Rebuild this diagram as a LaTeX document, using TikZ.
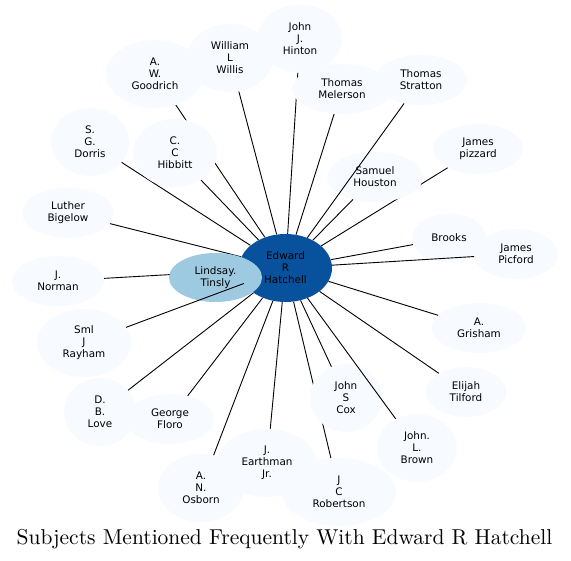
\documentclass[tikz,border=0pt]{standalone}
\usepackage{fontspec}
\usepackage{graphicx}
\usepackage{tikz}
\usetikzlibrary{shapes.geometric}
\newfontfamily\subjfont{DejaVu Sans}
\definecolor{hatchblue}{HTML}{08519C}
\definecolor{tinslyblue}{HTML}{9ECAE1}
\definecolor{paleblue}{HTML}{F7FBFF}
\pgfdeclarelayer{background}
\pgfsetlayers{background,main}

\begin{document}
\begin{tikzpicture}[x=1pt,y=-1pt,
    subj/.style={ellipse,fill=paleblue,inner sep=0pt,align=center,
      font=\subjfont\fontsize{10.4}{12}\selectfont},
    link/.style={line width=0.9pt,black}]
  \useasboundingbox (0,0) rectangle (571,561);
  % centre and the node laid over it
  \node[subj,fill=hatchblue,minimum width=93,minimum height=68] (edward) at (285.5,268) {Edward\\R\\Hatchell};
  \node[subj,fill=tinslyblue,minimum width=93,minimum height=49] (lindsay) at (215.5,277.5) {Lindsay.\\Tinsly};
  % ring of subjects
  \node[subj,minimum width=84,minimum height=68] (hinton) at (300,38.5) {John\\J.\\Hinton};
  \node[subj,minimum width=86,minimum height=68] (willis) at (230,58) {William\\L\\Willis};
  \node[subj,minimum width=98,minimum height=68] (goodrich) at (155,74) {A.\\W.\\Goodrich};
  \node[subj,minimum width=78,minimum height=68] (dorris) at (90,142) {S.\\G.\\Dorris};
  \node[subj,minimum width=84,minimum height=68] (hibbitt) at (175,153) {C.\\C\\Hibbitt};
  \node[subj,minimum width=92,minimum height=50] (bigelow) at (68,213) {Luther\\Bigelow};
  \node[subj,minimum width=92,minimum height=50] (norman) at (58,281) {J.\\Norman};
  \node[subj,minimum width=94,minimum height=68] (rayham) at (84,343) {Sml\\J\\Rayham};
  \node[subj,minimum width=72,minimum height=68] (love) at (100,412) {D.\\B.\\Love};
  \node[subj,minimum width=88,minimum height=50] (floro) at (170,419) {George\\Floro};
  \node[subj,minimum width=86,minimum height=68] (osborn) at (201,488) {A.\\N.\\Osborn};
  \node[subj,minimum width=100,minimum height=68] (earthman) at (267,463) {J.\\Earthman\\Jr.};
  \node[subj,minimum width=114,minimum height=68] (robertson) at (339,492) {J\\C\\Robertson};
  \node[subj,minimum width=72,minimum height=68] (cox) at (346,398) {John\\S\\Cox};
  \node[subj,minimum width=80,minimum height=68] (brown) at (417,448) {John.\\L.\\Brown};
  \node[subj,minimum width=80,minimum height=50] (tilford) at (466,392) {Elijah\\Tilford};
  \node[subj,minimum width=94,minimum height=50] (grisham) at (479,328) {A.\\Grisham};
  \node[subj,minimum width=74,minimum height=49] (brooks) at (449,238) {Brooks};
  \node[subj,minimum width=84,minimum height=50] (picford) at (516,254) {James\\Picford};
  \node[subj,minimum width=90,minimum height=50] (pizzard) at (478,149) {James\\pizzard};
  \node[subj,minimum width=96,minimum height=50] (houston) at (375,177) {Samuel\\Houston};
  \node[subj,minimum width=92,minimum height=50] (stratton) at (421,80) {Thomas\\Stratton};
  \node[subj,minimum width=100,minimum height=50] (melerson) at (342,89) {Thomas\\Melerson};
  % links behind the nodes
  \begin{pgfonlayer}{background}
    \foreach \other in {hinton,willis,goodrich,dorris,hibbitt,bigelow,norman,love,floro,
        osborn,earthman,robertson,cox,tilford,grisham,brooks,pizzard,houston,melerson}
      \draw[link] (edward) -- (\other);
  \end{pgfonlayer}
  % links drawn over the nodes
  \foreach \other in {rayham,stratton,picford,brown}
    \draw[link] (edward) -- (\other);
  \node[anchor=base,inner sep=0pt] (title) at (284.5,544) {\scalebox{2.15}{Subjects Mentioned Frequently With Edward R Hatchell}};
\end{tikzpicture}
\end{document}
